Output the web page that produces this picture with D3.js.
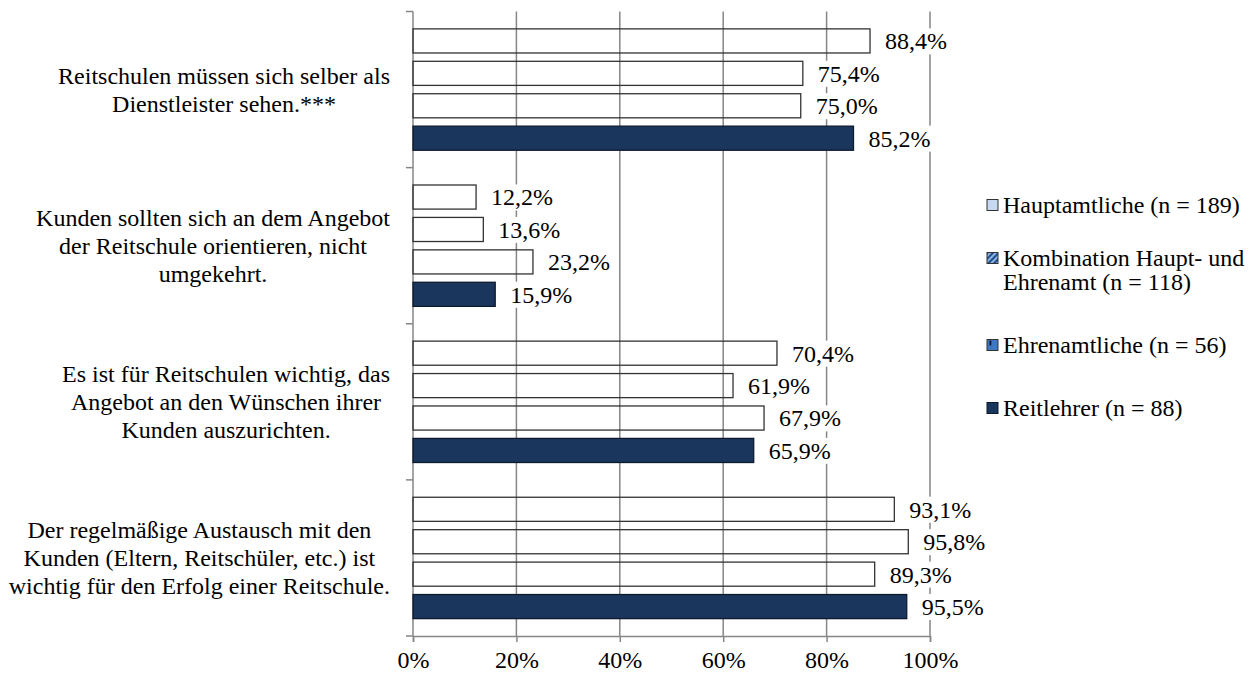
<!DOCTYPE html>
<html><head><meta charset="utf-8">
<script src="https://cdn.jsdelivr.net/npm/d3@7"></script>
<style>
html,body{margin:0;padding:0;background:#fff;}
svg{display:block;font-family:"Liberation Serif","Times New Roman",serif;}
svg text{font-family:"Liberation Serif","Times New Roman",serif;}
</style></head>
<body>
<svg id="chart" width="1257" height="675"></svg>
<script>
const categories = [
  "Reitschulen müssen sich selber als\nDienstleister sehen.***",
  "Kunden sollten sich an dem Angebot\nder Reitschule orientieren, nicht\numgekehrt.",
  "Es ist für Reitschulen wichtig, das\nAngebot an den Wünschen ihrer\nKunden auszurichten.",
  "Der regelmäßige Austausch mit den\nKunden (Eltern, Reitschüler, etc.) ist\nwichtig für den Erfolg einer Reitschule."
];
const seriesNames = [
  "Hauptamtliche (n = 189)",
  "Kombination Haupt- und\nEhrenamt (n = 118)",
  "Ehrenamtliche (n = 56)",
  "Reitlehrer (n = 88)"
];
const hauptamtliche = [88.4, 12.2, 70.4, 93.1];
const kombination   = [75.4, 13.6, 61.9, 95.8];
const ehrenamtliche = [75.0, 23.2, 67.9, 89.3];
const reitlehrer    = [85.2, 15.9, 65.9, 95.5];
const xTicks = [0, 20, 40, 60, 80, 100];

const seriesValues = [hauptamtliche, kombination, ehrenamtliche, reitlehrer];

const svg = d3.select("#chart");
const FS = 24;
const FF = "Liberation Serif, Times New Roman, serif";
const plot = {left: 413, right: 930, top: 11.5, bottom: 636};

const x = d3.scaleLinear().domain([0, 100]).range([plot.left, plot.right]);
const y = d3.scaleBand().domain(d3.range(categories.length)).range([plot.top, plot.bottom]).padding(0);
const yInner = d3.scaleBand().domain(d3.range(seriesNames.length)).range([0, y.bandwidth()])
  .paddingInner(0.257).paddingOuter(0.536);

// gridlines
svg.append("g").selectAll("line").data(xTicks.filter(d => d > 0)).join("line")
  .attr("x1", d => x(d)).attr("x2", d => x(d))
  .attr("y1", plot.top).attr("y2", plot.bottom)
  .attr("stroke", "#868686").attr("stroke-width", 1.5);

// x axis
const xAxis = d3.axisBottom(x).tickValues(xTicks).tickFormat(d => d + "%").tickSize(6).tickPadding(9);
const gx = svg.append("g").attr("transform", `translate(0,${plot.bottom})`).call(xAxis)
  .attr("font-family", FF).attr("font-size", FS);
gx.select(".domain").attr("stroke", "#868686").attr("stroke-width", 1.5);
gx.selectAll(".tick line").attr("stroke", "#868686").attr("stroke-width", 1.5);
gx.selectAll(".tick text").attr("font-size", FS).attr("fill", "#000").attr("font-family", FF);

// y axis (category boundaries)
const yb = d3.range(categories.length + 1).map(i => i === categories.length ? plot.bottom : y(i));
svg.append("line").attr("x1", plot.left).attr("x2", plot.left).attr("y1", plot.top).attr("y2", plot.bottom)
  .attr("stroke", "#868686").attr("stroke-width", 1.5);
svg.append("g").selectAll("line").data(yb).join("line")
  .attr("x1", plot.left - 7).attr("x2", plot.left).attr("y1", d => d).attr("y2", d => d)
  .attr("stroke", "#868686").attr("stroke-width", 1.5);

// bars
const barData = [];
categories.forEach((c, ci) => seriesValues.forEach((vals, si) => barData.push({ci, si, v: vals[ci]})));
svg.append("g").selectAll("rect").data(barData).join("rect")
  .attr("x", x(0))
  .attr("y", d => y(d.ci) + yInner(d.si))
  .attr("width", d => x(d.v) - x(0))
  .attr("height", yInner.bandwidth())
  .attr("fill", d => d.si === 3 ? "#1b365d" : "none")
  .attr("stroke", d => d.si === 3 ? "#0d1a2e" : "#333")
  .attr("stroke-width", 1.3);

// value labels with white background
const fmt = v => v.toFixed(1).replace(".", ",") + "%";
const lg = svg.append("g");
barData.forEach(d => {
  const cy = y(d.ci) + yInner(d.si) + yInner.bandwidth() / 2;
  const tx = x(d.v) + 15;
  const g = lg.append("g");
  const t = g.append("text").attr("x", tx).attr("y", cy).attr("dy", "0.35em")
    .attr("font-size", FS).attr("font-family", FF).attr("fill", "#000").text(fmt(d.v));
  const bb = t.node().getBBox();
  g.insert("rect", "text").attr("x", bb.x - 4).attr("y", bb.y).attr("width", bb.width + 8).attr("height", bb.height)
    .attr("fill", "#fff");
});

// category labels: block right-aligned, lines centered
const labelRight = 390;
const lineH = 28;
categories.forEach((c, ci) => {
  const lines = c.split("\n");
  const g = svg.append("g");
  const texts = lines.map(l => g.append("text").attr("font-size", FS).attr("font-family", FF).attr("fill", "#000").text(l));
  const maxW = d3.max(texts, t => t.node().getComputedTextLength());
  const cx = labelRight - maxW / 2;
  const cy = y(ci) + y.bandwidth() / 2;
  texts.forEach((t, i) => {
    t.attr("x", cx).attr("text-anchor", "middle")
     .attr("y", cy + (i - (lines.length - 1) / 2) * lineH).attr("dy", "0.35em");
  });
});

// legend
const defs = svg.append("defs");
const pat = defs.append("pattern").attr("id", "diag").attr("patternUnits", "userSpaceOnUse")
  .attr("width", 4).attr("height", 4).attr("patternTransform", "rotate(45)");
pat.append("rect").attr("width", 4).attr("height", 4).attr("fill", "#8db3e2");
pat.append("rect").attr("width", 2).attr("height", 4).attr("fill", "#1f4e8c");

const legendY = [205, 258, 345, 408];
const sw = 11;
const leg = svg.append("g");
seriesNames.forEach((n, i) => {
  const yy = legendY[i];
  const g = leg.append("g");
  if (i === 0) {
    g.append("rect").attr("x", 987).attr("y", yy - sw / 2).attr("width", sw).attr("height", sw)
      .attr("fill", "#c6d9f1").attr("stroke", "#333").attr("stroke-width", 1);
  } else if (i === 1) {
    g.append("rect").attr("x", 987).attr("y", yy - sw / 2).attr("width", sw).attr("height", sw)
      .attr("fill", "url(#diag)").attr("stroke", "#333").attr("stroke-width", 1);
  } else if (i === 2) {
    g.append("rect").attr("x", 987).attr("y", yy - sw / 2).attr("width", sw).attr("height", sw)
      .attr("fill", "#3c78c3").attr("stroke", "#333").attr("stroke-width", 1);
    g.append("rect").attr("x", 989.5).attr("y", yy - sw / 2 + 1).attr("width", 1.8).attr("height", 5)
      .attr("fill", "#0d1a2e");
  } else {
    g.append("rect").attr("x", 987).attr("y", yy - sw / 2).attr("width", sw).attr("height", sw)
      .attr("fill", "#1b365d").attr("stroke", "#0d1a2e").attr("stroke-width", 1);
  }
  n.split("\n").forEach((l, li) => {
    g.append("text").attr("x", 1003).attr("y", yy + li * 24).attr("dy", "0.35em")
      .attr("font-size", FS).attr("font-family", FF).attr("fill", "#000").text(l);
  });
});
</script>
</body></html>
